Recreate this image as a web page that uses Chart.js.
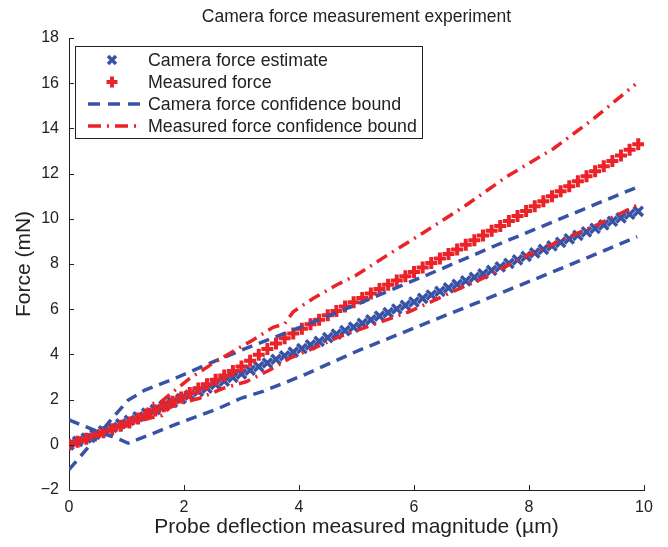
<!DOCTYPE html>
<html lang="en">
<head>
<meta charset="UTF-8">
<title>Camera force measurement experiment</title>
<script src="https://cdn.jsdelivr.net/npm/chart.js"></script>
<style>
    body { margin: 0; background: #fff; }
    #wrap { width: 668px; height: 547px; }
</style>
</head>
<body>
<div id="wrap"><canvas id="forceChart" width="668" height="547"></canvas></div>
<script>
// marker positions along x (µm)
const probeX = [0, 0.15, 0.3, 0.45, 0.6, 0.75, 0.9, 1.05, 1.2, 1.35, 1.5, 1.65, 1.8, 1.95, 2.1, 2.25, 2.4, 2.55, 2.7, 2.85,
    3.0, 3.15, 3.3, 3.45, 3.6, 3.75, 3.9, 4.05, 4.2, 4.35, 4.5, 4.65, 4.8, 4.95, 5.1, 5.25, 5.4, 5.55, 5.7, 5.85,
    6.0, 6.15, 6.3, 6.45, 6.6, 6.75, 6.9, 7.05, 7.2, 7.35, 7.5, 7.65, 7.8, 7.95, 8.1, 8.25, 8.4, 8.55, 8.7, 8.85,
    9.0, 9.15, 9.3, 9.45, 9.6, 9.75, 9.9];
const cameraEstimate = [0, 0.15, 0.3, 0.46, 0.62, 0.77, 0.93, 1.08, 1.24, 1.4, 1.56, 1.72, 1.88, 2.04, 2.2, 2.36, 2.51, 2.67, 2.82, 2.98,
    3.14, 3.3, 3.46, 3.62, 3.78, 3.94, 4.1, 4.26, 4.42, 4.58, 4.74, 4.9, 5.05, 5.21, 5.37, 5.53, 5.69, 5.85, 6.01, 6.17,
    6.32, 6.48, 6.63, 6.79, 6.94, 7.1, 7.25, 7.41, 7.56, 7.72, 7.87, 8.03, 8.18, 8.34, 8.49, 8.65, 8.8, 8.96, 9.11, 9.27,
    9.42, 9.58, 9.73, 9.89, 10.04, 10.2, 10.33];
const measuredForce = [0, 0.13, 0.27, 0.41, 0.55, 0.69, 0.84, 0.99, 1.16, 1.34, 1.52, 1.71, 1.9, 2.09, 2.29, 2.49, 2.68, 2.88, 3.07, 3.26,
    3.46, 3.72, 3.98, 4.24, 4.48, 4.71, 4.93, 5.13, 5.33, 5.53, 5.73, 5.92, 6.12, 6.31, 6.5, 6.7, 6.89, 7.08, 7.27, 7.46,
    7.65, 7.84, 8.04, 8.24, 8.44, 8.64, 8.85, 9.05, 9.26, 9.47, 9.68, 9.9, 10.12, 10.34, 10.56, 10.78, 11.0, 11.22, 11.44, 11.66,
    11.88, 12.1, 12.33, 12.56, 12.8, 13.05, 13.3];

// confidence bounds
const cameraUpperX = [0, 0.27, 0.73, 1.03, 1.32, 1.78, 2.31, 3.0, 4.05, 5.05, 6.5, 7.43, 9.88];
const cameraUpperY = [-1.1, -0.3, 1.1, 1.98, 2.42, 2.87, 3.46, 4.19, 5.23, 6.26, 7.81, 8.83, 11.4];
const cameraLowerX = [0, 0.44, 0.91, 1.03, 1.32, 1.9, 2.6, 3.0, 3.36, 4.05, 5.05, 7.43, 9.13, 9.88];
const cameraLowerY = [1.1, 0.65, 0.21, 0.07, 0.36, 0.95, 1.61, 2.07, 2.35, 3.05, 4.19, 6.63, 8.4, 9.21];
const measUpperX = [0, 0.5, 1.0, 1.3, 1.42, 1.6, 1.81, 2.1, 2.5, 2.85, 3.2, 3.55, 3.75, 3.9, 4.25, 4.65, 5.0, 5.45, 6.15, 6.91, 7.61, 8.43, 9.13, 9.85];
const measUpperY = [0, 0.45, 0.95, 1.25, 1.8, 1.9, 2.35, 2.94, 3.6, 4.13, 4.64, 5.2, 5.35, 5.89, 6.48, 7.07, 7.51, 8.25, 9.36, 10.61, 11.86, 13.11, 14.44, 15.95];
const measLowerX = [0, 0.5, 1.0, 1.35, 1.62, 1.75, 1.95, 2.27, 2.68, 3.08, 3.49, 3.84, 4.25, 4.7, 5.92, 6.74, 7.2, 7.9, 8.65, 9.24, 9.88];
const measLowerY = [0, 0.4, 0.85, 1.15, 1.3, 1.65, 1.85, 2.06, 2.5, 2.79, 3.31, 3.83, 4.27, 4.78, 5.89, 6.85, 7.37, 8.3, 9.14, 9.8, 10.6];

const blue = '#3853a6';
const red = '#ec2229';
const ink = '#222';
const fontFamily = "'Liberation Sans', Arial, sans-serif";
Chart.defaults.font.family = fontFamily;

const pairs = (xs, ys) => xs.map((x, i) => ({ x: x, y: ys[i] }));

// title centred over the plot area
const titlePlugin = {
    id: 'plotTitle',
    afterDraw(chart) {
        const ctx = chart.ctx, a = chart.chartArea;
        ctx.save();
        ctx.font = '17.5px ' + fontFamily;
        ctx.fillStyle = ink;
        ctx.textAlign = 'center';
        ctx.textBaseline = 'middle';
        ctx.fillText('Camera force measurement experiment', (a.left + a.right) / 2, 17);
        ctx.restore();
    }
};

// matlab style ticks pointing into the plot
const innerTicks = {
    id: 'innerTicks',
    afterDraw(chart) {
        const ctx = chart.ctx, a = chart.chartArea;
        const xs = chart.scales.x, ys = chart.scales.y;
        ctx.save();
        ctx.strokeStyle = ink;
        ctx.lineWidth = 1;
        ctx.beginPath();
        xs.ticks.forEach(t => {
            const px = Math.round(xs.getPixelForValue(t.value)) + 0.5;
            ctx.moveTo(px, a.bottom);
            ctx.lineTo(px, a.bottom - 5);
        });
        ys.ticks.forEach(t => {
            const py = Math.round(ys.getPixelForValue(t.value)) + 0.5;
            ctx.moveTo(a.left, py);
            ctx.lineTo(a.left + 5, py);
        });
        ctx.stroke();
        ctx.restore();
    }
};

// boxed legend in the upper left corner
const legendBox = {
    id: 'legendBox',
    afterDraw(chart) {
        const ctx = chart.ctx, a = chart.chartArea;
        const bx = a.left + 6, by = a.top + 8, bw = 347, bh = 92;
        ctx.save();
        ctx.fillStyle = '#fff';
        ctx.fillRect(bx, by, bw, bh);
        ctx.strokeStyle = ink;
        ctx.lineWidth = 1;
        ctx.strokeRect(bx + 0.5, by + 0.5, bw, bh);

        const labels = chart.data.datasets.slice(0, 4).map(d => d.label);
        const rows = [by + 14, by + 36, by + 58, by + 80];
        const cx = bx + 37;

        // camera estimate marker
        ctx.lineWidth = 3.5;
        ctx.strokeStyle = blue;
        ctx.beginPath();
        ctx.moveTo(cx - 4, rows[0] - 4); ctx.lineTo(cx + 4, rows[0] + 4);
        ctx.moveTo(cx + 4, rows[0] - 4); ctx.lineTo(cx - 4, rows[0] + 4);
        ctx.stroke();
        // measured marker
        ctx.lineWidth = 4;
        ctx.strokeStyle = red;
        ctx.beginPath();
        ctx.moveTo(cx - 5.5, rows[1]); ctx.lineTo(cx + 5.5, rows[1]);
        ctx.moveTo(cx, rows[1] - 5.5); ctx.lineTo(cx, rows[1] + 5.5);
        ctx.stroke();
        // bound samples
        ctx.lineWidth = 3.5;
        ctx.strokeStyle = blue;
        ctx.setLineDash([12, 8]);
        ctx.beginPath();
        ctx.moveTo(bx + 13, rows[2]); ctx.lineTo(bx + 67, rows[2]);
        ctx.stroke();
        ctx.strokeStyle = red;
        ctx.setLineDash([13, 6, 2, 6]);
        ctx.beginPath();
        ctx.moveTo(bx + 13, rows[3]); ctx.lineTo(bx + 67, rows[3]);
        ctx.stroke();
        ctx.setLineDash([]);

        ctx.font = '17.8px ' + fontFamily;
        ctx.fillStyle = ink;
        ctx.textBaseline = 'middle';
        ctx.textAlign = 'left';
        labels.forEach((txt, i) => ctx.fillText(txt, bx + 73, rows[i] + 1));
        ctx.restore();
    }
};

new Chart(document.getElementById('forceChart'), {
    type: 'scatter',
    data: {
        datasets: [
            {
                label: 'Camera force estimate',
                data: pairs(probeX, cameraEstimate),
                pointStyle: 'crossRot',
                pointRadius: 6.5,
                borderColor: blue,
                backgroundColor: blue,
                borderWidth: 3.5,
                order: 4
            },
            {
                label: 'Measured force',
                data: pairs(probeX, measuredForce),
                pointStyle: 'cross',
                pointRadius: 6,
                borderColor: red,
                backgroundColor: red,
                borderWidth: 4,
                order: 3
            },
            {
                label: 'Camera force confidence bound',
                data: pairs(cameraUpperX, cameraUpperY),
                showLine: true,
                pointRadius: 0,
                borderColor: blue,
                borderWidth: 3.5,
                borderDash: [11, 7],
                order: 2
            },
            {
                label: 'Measured force confidence bound',
                data: pairs(measUpperX, measUpperY),
                showLine: true,
                pointRadius: 0,
                borderColor: red,
                borderWidth: 3.5,
                borderDash: [12, 6, 2, 6],
                order: 1
            },
            {
                label: 'Camera force confidence bound (lower)',
                data: pairs(cameraLowerX, cameraLowerY),
                showLine: true,
                pointRadius: 0,
                borderColor: blue,
                borderWidth: 3.5,
                borderDash: [11, 7],
                order: 2
            },
            {
                label: 'Measured force confidence bound (lower)',
                data: pairs(measLowerX, measLowerY),
                showLine: true,
                pointRadius: 0,
                borderColor: red,
                borderWidth: 3.5,
                borderDash: [12, 6, 2, 6],
                order: 1
            }
        ]
    },
    options: {
        responsive: false,
        animation: false,
        layout: { padding: { top: 38, right: 24, left: 0, bottom: 0 } },
        plugins: {
            legend: { display: false },
            tooltip: { enabled: false }
        },
        scales: {
            x: {
                type: 'linear',
                min: 0,
                max: 10,
                ticks: { stepSize: 2, color: ink, font: { size: 16 }, padding: 8 },
                grid: { display: false, drawTicks: false },
                border: { display: true, color: ink, width: 1 },
                title: {
                    display: true,
                    text: 'Probe deflection measured magnitude (\u00b5m)',
                    color: ink,
                    font: { size: 21 },
                    padding: { top: 0, bottom: 7 }
                },
                afterFit(scale) { scale.height = 57; }
            },
            y: {
                type: 'linear',
                min: -2,
                max: 18,
                ticks: {
                    stepSize: 2,
                    color: ink,
                    font: { size: 16 },
                    padding: 10,
                    callback: v => String(v).replace('-', '\u2212')
                },
                grid: { display: false, drawTicks: false },
                border: { display: true, color: ink, width: 1 },
                title: {
                    display: true,
                    text: 'Force (mN)',
                    color: ink,
                    font: { size: 21 },
                    padding: { top: 12, bottom: 0 }
                },
                afterFit(scale) { scale.width = 69; }
            }
        }
    },
    plugins: [titlePlugin, innerTicks, legendBox]
});
</script>
</body>
</html>
